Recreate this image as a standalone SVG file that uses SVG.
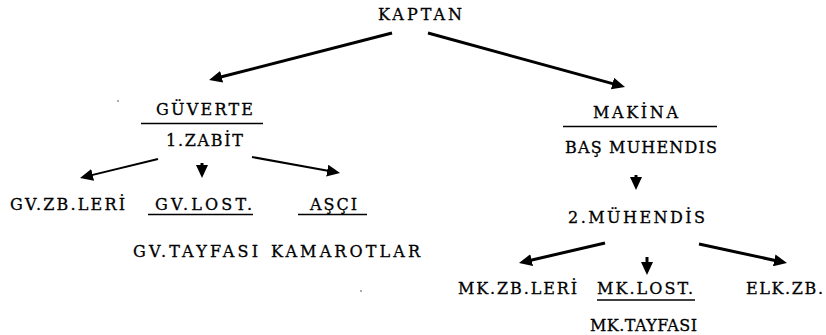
<svg xmlns="http://www.w3.org/2000/svg" width="826" height="335" viewBox="0 0 826 335">
  <style>
    .lbl { font-family: "DejaVu Serif", "Liberation Serif", serif; font-size: 16px; fill: #000; stroke: #000; stroke-width: 0.3; }
    .rule { stroke: #000; stroke-width: 1.5; }
    .edge { stroke: #000; stroke-width: 3; fill: none; marker-end: url(#head); }
    .edge.thin { stroke-width: 2; }
    .speck { fill: #444; }
  </style>
  <defs>
    <marker id="head" markerUnits="userSpaceOnUse" markerWidth="13" markerHeight="12" viewBox="0 0 13 12" refX="2" refY="6" orient="auto">
      <path d="M0,0 L13,6 L0,12 z" fill="#000"/>
    </marker>
  </defs>
  <rect width="826" height="335" fill="#fff"/>

  <!-- connectors -->
  <g id="connectors">
    <line class="edge" x1="392" y1="33" x2="219.7" y2="77.3"/>
    <line class="edge" x1="428" y1="33" x2="614.4" y2="84.1"/>
    <line class="edge thin" x1="158" y1="159" x2="90.7" y2="175.4"/>
    <line class="edge" x1="202" y1="163" x2="202" y2="167"/>
    <line class="edge thin" x1="252" y1="157" x2="329.2" y2="171.0"/>
    <line class="edge" x1="636" y1="175" x2="636" y2="179"/>
    <line class="edge" x1="605" y1="243" x2="529.7" y2="260.5"/>
    <line class="edge" x1="647" y1="257" x2="647" y2="264"/>
    <line class="edge" x1="699" y1="244" x2="776.2" y2="260.7"/>
  </g>

  <!-- nodes -->
  <g id="kaptan">
    <text class="lbl" x="378" y="20" textLength="84" lengthAdjust="spacing">KAPTAN</text>
  </g>
  <g id="guverte">
    <text class="lbl" x="156" y="115" textLength="97" lengthAdjust="spacing">GÜVERTE</text>
    <line class="rule" x1="141" y1="123.5" x2="263" y2="123.5"/>
    <text class="lbl" x="166" y="146" textLength="77" lengthAdjust="spacing">1.ZABİT</text>
  </g>
  <g id="gv-zb-leri">
    <text class="lbl" x="10" y="210" textLength="115" lengthAdjust="spacing">GV.ZB.LERİ</text>
  </g>
  <g id="gv-lost">
    <text class="lbl" x="155" y="210" textLength="97" lengthAdjust="spacing">GV.LOST.</text>
    <line class="rule" x1="148" y1="214.5" x2="253" y2="214.5"/>
    <text class="lbl" x="133" y="257" textLength="125" lengthAdjust="spacing">GV.TAYFASI</text>
  </g>
  <g id="asci">
    <text class="lbl" x="310" y="210" textLength="47" lengthAdjust="spacing">AŞÇI</text>
    <line class="rule" x1="298" y1="214.5" x2="367" y2="214.5"/>
    <text class="lbl" x="271" y="257" textLength="149" lengthAdjust="spacing">KAMAROTLAR</text>
  </g>
  <g id="makina">
    <text class="lbl" x="593" y="118" textLength="85" lengthAdjust="spacing">MAKİNA</text>
    <line class="rule" x1="563" y1="126.5" x2="717" y2="126.5"/>
    <text class="lbl" x="565" y="153" textLength="152" lengthAdjust="spacing">BAŞ MUHENDIS</text>
  </g>
  <g id="muhendis-2">
    <text class="lbl" x="568" y="223" textLength="137" lengthAdjust="spacing">2.MÜHENDİS</text>
  </g>
  <g id="mk-zb-leri">
    <text class="lbl" x="458" y="294" textLength="119" lengthAdjust="spacing">MK.ZB.LERİ</text>
  </g>
  <g id="mk-lost">
    <text class="lbl" x="597" y="294" textLength="96" lengthAdjust="spacing">MK.LOST.</text>
    <line class="rule" x1="597" y1="300" x2="695" y2="300"/>
    <text class="lbl" x="590" y="331" textLength="107" lengthAdjust="spacing">MK.TAYFASI</text>
  </g>
  <g id="elk-zb">
    <text class="lbl" x="746" y="294" textLength="77" lengthAdjust="spacing">ELK.ZB.</text>
  </g>

  <!-- stray specks -->
  <circle class="speck" cx="118" cy="101" r="0.8"/>
  <circle class="speck" cx="361" cy="291" r="0.8"/>
</svg>
